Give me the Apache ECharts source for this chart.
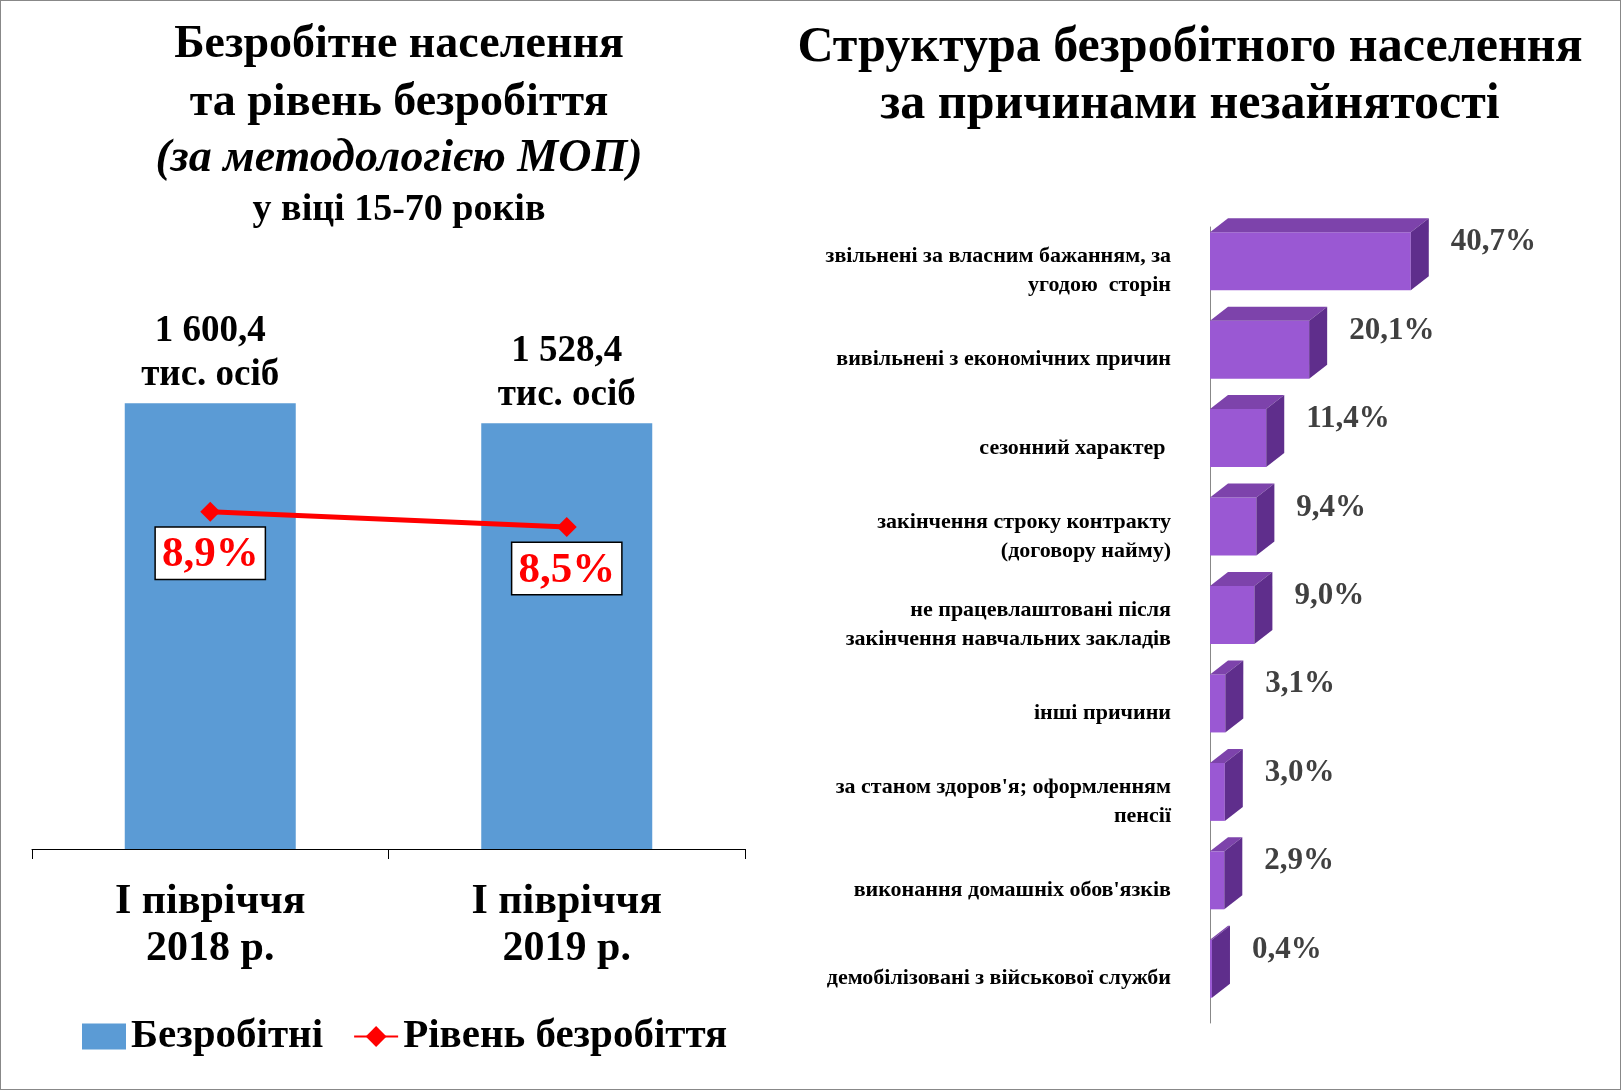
<!DOCTYPE html>
<html><head><meta charset="utf-8">
<script src="https://cdn.jsdelivr.net/npm/echarts@6/dist/echarts.min.js"></script>
<style>html,body{margin:0;padding:0;background:#fff}#c{width:1621px;height:1090px;box-sizing:border-box;border:1px solid #888}</style>
</head><body><div id="c"></div>
<script>
const periods = ['І півріччя\n2018 р.', 'І півріччя\n2019 р.'];
const unemployed = [1600.4, 1528.4];
const unemploymentRate = [8.9, 8.5];
const reasons = ['звільнені за власним бажанням, за\nугодою  сторін','вивільнені з економічних причин','сезонний характер ','закінчення строку контракту\n(договору найму)','не працевлаштовані після\nзакінчення навчальних закладів','інші причини','за станом здоров\'я; оформленням\nпенсії','виконання домашніх обов\'язків','демобілізовані з військової служби'];
const reasonShares = [40.7, 20.1, 11.4, 9.4, 9.0, 3.1, 3.0, 2.9, 0.4];

const F = 'Liberation Serif, Times New Roman, serif';
const fmt = v => v.toFixed(1).replace('.', ',');
const chart = echarts.init(document.getElementById('c'));
chart.setOption({
  animation: false,
  textStyle: {fontFamily: F},
  title: [
    {text: 'Безробітне населення\nта рівень безробіття', left: 393, top: 10, textAlign: 'center',
     textStyle: {fontFamily: F, fontSize: 46, fontWeight: 'bold', color: '#000', lineHeight: 58}},
    {text: '(за методологією МОП)', left: 393, top: 130, textAlign: 'center',
     textStyle: {fontFamily: F, fontSize: 46, fontWeight: 'bold', fontStyle: 'italic', color: '#000'}},
    {text: 'у віці 15-70 років', left: 393, top: 185, textAlign: 'center',
     textStyle: {fontFamily: F, fontSize: 38, fontWeight: 'bold', color: '#000'}},
    {text: 'Структура безробітного населення\nза причинами незайнятості', left: 1184, top: 14, textAlign: 'center',
     textStyle: {fontFamily: F, fontSize: 50, fontWeight: 'bold', color: '#000', lineHeight: 57}}
  ],
  legend: {left: 76, top: 1010, itemGap: 30, itemWidth: 44, itemHeight: 26,
    textStyle: {fontFamily: F, fontSize: 41, fontWeight: 'bold', color: '#000'},
    data: [{name: 'Безробітні', icon: 'rect'}, {name: 'Рівень безробіття'}]},
  grid: [
    {left: 31, right: 875, top: 291, bottom: 240},
    {left: 1209, right: 114, top: 226, bottom: 66}
  ],
  xAxis: [
    {type: 'category', gridIndex: 0, data: periods,
     axisLine: {lineStyle: {color: '#000'}}, axisTick: {show: true, interval: 0, length: 10, lineStyle: {color: '#000'}},
     axisLabel: {fontFamily: F, fontSize: 42, fontWeight: 'bold', color: '#000', margin: 30, lineHeight: 47}},
    {type: 'value', gridIndex: 1, min: 0, max: 60, show: false}
  ],
  yAxis: [
    {type: 'value', gridIndex: 0, min: 0, max: 2000, show: false},
    {type: 'value', gridIndex: 0, min: 0, max: 14.7, show: false},
    {type: 'category', gridIndex: 1, data: reasons, inverse: true, offset: 15,
     axisLine: {show: true, lineStyle: {color: '#888'}}, axisTick: {show: false}, splitLine: {show: false},
     axisLabel: {fontFamily: F, fontSize: 22, fontWeight: 'bold', color: '#000', margin: 24, lineHeight: 29, align: 'right'}}
  ],
  series: [
    {name: 'Безробітні', type: 'bar', xAxisIndex: 0, yAxisIndex: 0, data: unemployed, barWidth: 171,
     itemStyle: {color: '#5b9bd5'},
     label: {show: true, position: 'top', distance: 6, formatter: p => p.value.toFixed(1).replace('.', ',').replace(/^(\d)(\d{3})/, '$1 $2') + '\nтис. осіб',
       fontFamily: F, fontSize: 37, fontWeight: 'bold', color: '#000', lineHeight: 44}},
    {name: 'Рівень безробіття', type: 'line', xAxisIndex: 0, yAxisIndex: 1, data: unemploymentRate,
     symbol: 'diamond', symbolSize: 20, lineStyle: {color: '#ff0000', width: 5}, itemStyle: {color: '#ff0000'},
     label: {show: true, position: 'bottom', distance: 6, formatter: p => fmt(p.value) + '%',
       fontFamily: F, fontSize: 43, fontWeight: 'bold', color: '#ff0000', backgroundColor: '#fff',
       borderColor: '#000', borderWidth: 1.5, padding: [6, 6, 2, 6]}},
    {type: 'custom', xAxisIndex: 1, yAxisIndex: 2,
     data: reasonShares.map((v, i) => [v, i]), encode: {x: 0, y: 1},
     renderItem: (params, api) => {
       const v = api.value(0), c = api.value(1);
       const p0 = api.coord([0, c]), p1 = api.coord([v, c]);
       const h = 58, dx = 18, dy = 14;
       const x0 = p0[0], x1 = p1[0], yt = p0[1] - h / 2 - 10, yb = yt + h;
       return {type: 'group', children: [
         {type: 'rect', shape: {x: x0, y: yt, width: x1 - x0, height: h}, style: {fill: '#9a58d3'}},
         {type: 'polygon', shape: {points: [[x0, yt], [x0 + dx, yt - dy], [x1 + dx, yt - dy], [x1, yt]]}, style: {fill: '#7d43ab'}},
         {type: 'polygon', shape: {points: [[x1, yt], [x1 + dx, yt - dy], [x1 + dx, yb - dy], [x1, yb]]}, style: {fill: '#5f2e8c'}},
         {type: 'text', style: {x: x1 + dx + 22, y: yt + 10, text: fmt(v) + '%', fill: '#404040',
           font: 'bold 31px ' + F, textAlign: 'left', textVerticalAlign: 'middle'}}
       ]};
     }}
  ]
});
</script></body></html>
